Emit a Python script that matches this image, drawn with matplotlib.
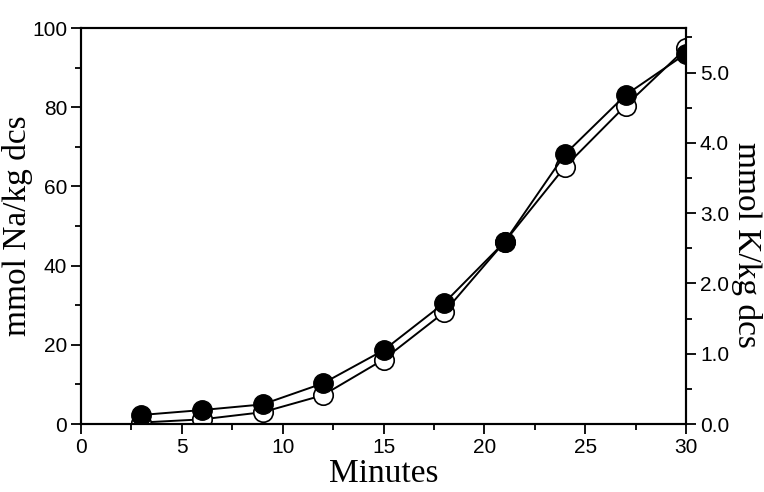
import numpy as np
import matplotlib.pyplot as plt
from matplotlib.ticker import MultipleLocator, FormatStrFormatter

minutes = [3, 6, 9, 12, 15, 18, 21, 24, 27, 30]
na = [0.4, 1.2, 3.0, 7.3, 16.3, 28.2, 46.0, 65.0, 80.4, 94.9]   # open circles, left axis
k = [0.13, 0.20, 0.28, 0.58, 1.05, 1.72, 2.59, 3.84, 4.68, 5.27]  # filled circles, right axis

fig = plt.figure(figsize=(7.64, 4.92), dpi=100)
ax = fig.add_axes([0.106, 0.138, 0.792, 0.805])
ax2 = ax.twinx()

ax.plot(minutes, na, '-o', color='black', lw=1.4, ms=14,
        mfc='white', mec='black', mew=1.2, zorder=2)
ax2.plot(minutes, k, '-o', color='black', lw=1.4, ms=14,
         mfc='black', mec='black', zorder=3)

ax.set_xlim(0, 30)
ax.set_ylim(0, 100)
ax2.set_ylim(0, 5.633)

ax.xaxis.set_major_locator(MultipleLocator(5))
ax.xaxis.set_minor_locator(MultipleLocator(2.5))
ax.yaxis.set_major_locator(MultipleLocator(20))
ax.yaxis.set_minor_locator(MultipleLocator(10))
ax2.yaxis.set_major_locator(MultipleLocator(1))
ax2.yaxis.set_minor_locator(MultipleLocator(0.5))
ax2.yaxis.set_major_formatter(FormatStrFormatter('%.1f'))

tfont = 'Liberation Sans'
for a in (ax, ax2):
    a.tick_params(which='major', direction='out', length=7, width=1.3, labelsize=15, pad=3)
    a.tick_params(which='minor', direction='out', length=4.5, width=1.3)
    for lab in a.get_xticklabels() + a.get_yticklabels():
        lab.set_fontfamily(tfont)
    for s in a.spines.values():
        s.set_linewidth(1.5)
ax.tick_params(top=False, right=False)
ax2.tick_params(left=False, top=False, bottom=False)
ax2.set_xlim(0, 30)

lfont = dict(family='Liberation Serif', size=24)
ax.set_xlabel('Minutes', **lfont, labelpad=1)
ax.set_ylabel('mmol Na/kg dcs', **lfont, va='center')
ax.yaxis.set_label_coords(-0.105, 0.5)
ax2.set_ylabel('mmol K/kg dcs', **lfont, rotation=270, va='center')
ax2.yaxis.set_label_coords(1.1, 0.452)

plt.savefig('out.png', dpi=100)
